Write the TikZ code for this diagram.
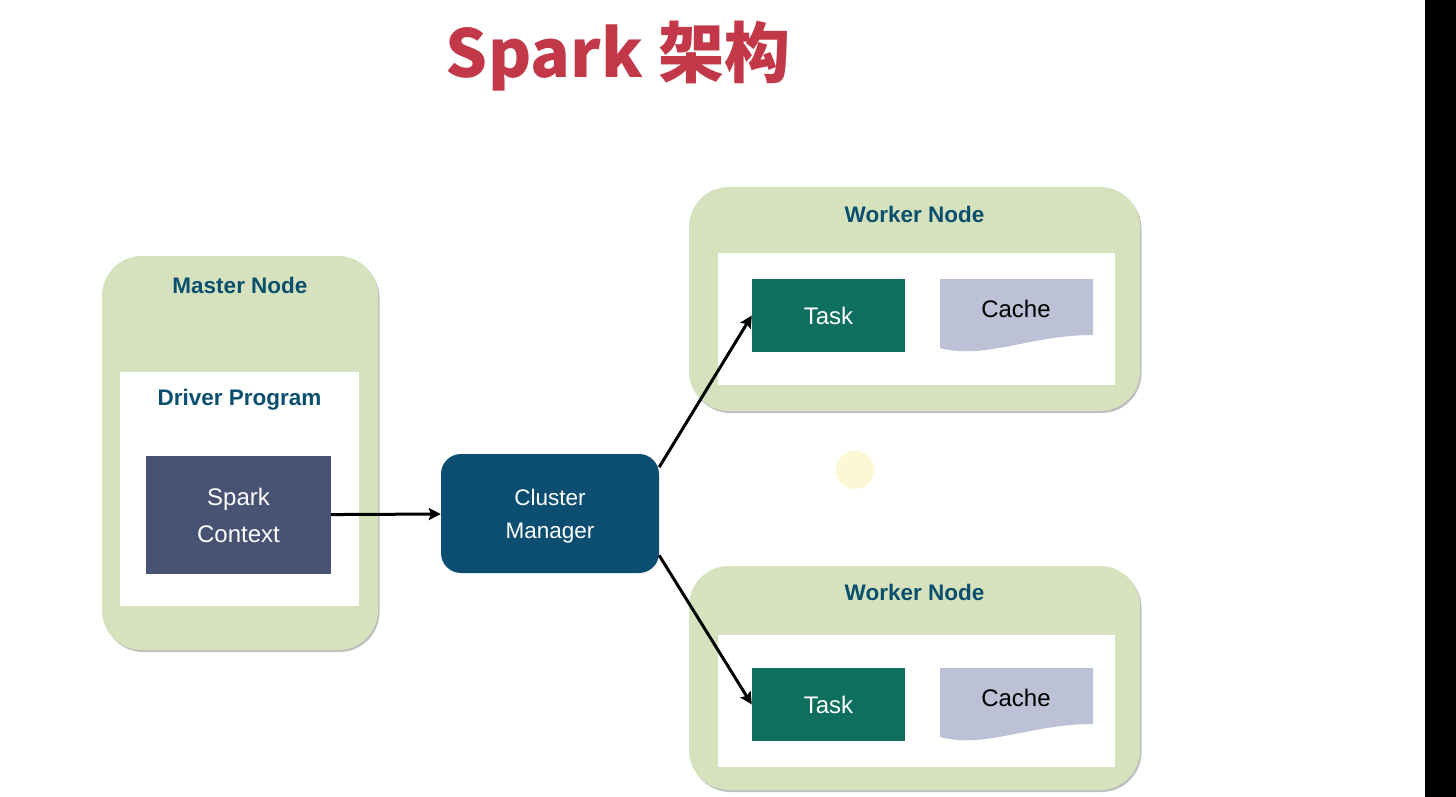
\documentclass[tikz,border=0pt]{standalone}
\usepackage{fontspec}
\setmainfont{Liberation Sans}
\newfontfamily\cjk{Noto Sans CJK SC}
\usetikzlibrary{shadows,arrows.meta}

\definecolor{nodegreen}{RGB}{214,226,189}
\definecolor{labelblue}{RGB}{10,80,110}
\definecolor{ctxblue}{RGB}{72,82,114}
\definecolor{cmblue}{RGB}{12,78,113}
\definecolor{taskgreen}{RGB}{14,111,94}
\definecolor{cachegray}{RGB}{188,193,213}
\definecolor{titlered}{RGB}{194,56,72}
\definecolor{pointeryellow}{RGB}{254,247,212}

\begin{document}
\begin{tikzpicture}[x=1pt,y=-1pt,
    greenbox/.style={fill=nodegreen, rounded corners=40pt, inner sep=0pt,
        drop shadow={shadow xshift=1.5pt, shadow yshift=-2pt, opacity=0.25, fill=black}},
    whitebox/.style={fill=white, inner sep=0pt},
    boxlabel/.style={anchor=base, text=labelblue, font=\fontsize{22.5}{26}\selectfont\bfseries},
    taskbox/.style={fill=taskgreen, text=white, minimum width=153pt, minimum height=73pt,
        inner sep=0pt, font=\fontsize{24}{28}\selectfont},
    cachetext/.style={anchor=base, font=\fontsize{24}{28}\selectfont},
    arr/.style={-{Stealth[length=12pt,width=12pt,inset=2pt]}, line width=3pt, black}]

    % page and margins
    \useasboundingbox (0,0) rectangle (1456,797);
    \fill[white] (0,0) rectangle (1456,797);
    \fill[black] (1425,0) rectangle (1456,797);

    % title
    \node[anchor=base, text=titlered, font=\cjk\bfseries\fontsize{66}{70}\selectfont] (title) at (618,78) {Spark 架构};

    % master node
    \node[greenbox, minimum width=276pt, minimum height=394pt] (master) at (240,453) {};
    \node[boxlabel] (masterlabel) at (240,293) {Master Node};
    \node[whitebox, minimum width=239pt, minimum height=234pt] (driver) at (239.5,489) {};
    \node[boxlabel] (driverlabel) at (239.5,405) {Driver Program};
    \node[fill=ctxblue, text=white, minimum width=185pt, minimum height=118pt, inner sep=0pt,
        align=center, font=\fontsize{24}{37}\selectfont] (ctx) at (238.5,515) {Spark\\Context};

    % cluster manager
    \node[fill=cmblue, text=white, rounded corners=20pt, minimum width=218pt, minimum height=119pt,
        inner sep=0pt, align=center, font=\fontsize{22.5}{33}\selectfont] (cm) at (550,513.5) {};
    \node[text=white, align=center, font=\fontsize{22.5}{33}\selectfont] (cmtext) at (550,516) {Cluster\\Manager};

    % worker nodes
    \node[greenbox, minimum width=451pt, minimum height=224pt] (worker1) at (914.5,299) {};
    \node[boxlabel] (worker1label) at (914.5,222) {Worker Node};
    \node[whitebox, minimum width=397pt, minimum height=132pt] (inner1) at (916.5,319) {};
    \node[taskbox] (task1) at (828.5,315.5) {Task};
    \fill[cachegray] (940,279) -- (1093,279) -- (1093,335)
        .. controls (1030,335) and (985,360) .. (940,348) -- cycle;
    \node[cachetext] (cache1) at (1016,317) {Cache};

    \node[greenbox, minimum width=451pt, minimum height=224pt] (worker2) at (914.5,678) {};
    \node[boxlabel] (worker2label) at (914.5,600) {Worker Node};
    \node[whitebox, minimum width=397pt, minimum height=132pt] (inner2) at (916.5,701) {};
    \node[taskbox] (task2) at (828.5,704.5) {Task};
    \fill[cachegray] (940,668) -- (1093,668) -- (1093,724)
        .. controls (1030,724) and (985,749) .. (940,737) -- cycle;
    \node[cachetext] (cache2) at (1016,706) {Cache};

    % pointer highlight
    \fill[pointeryellow] (855,470) circle (19pt);

    % connectors
    \draw[arr] (ctx) -- (cm);
    \draw[arr] (cm.23) -- (task1.west);
    \draw[arr] (cm.-21) -- (task2.west);
\end{tikzpicture}
\end{document}
